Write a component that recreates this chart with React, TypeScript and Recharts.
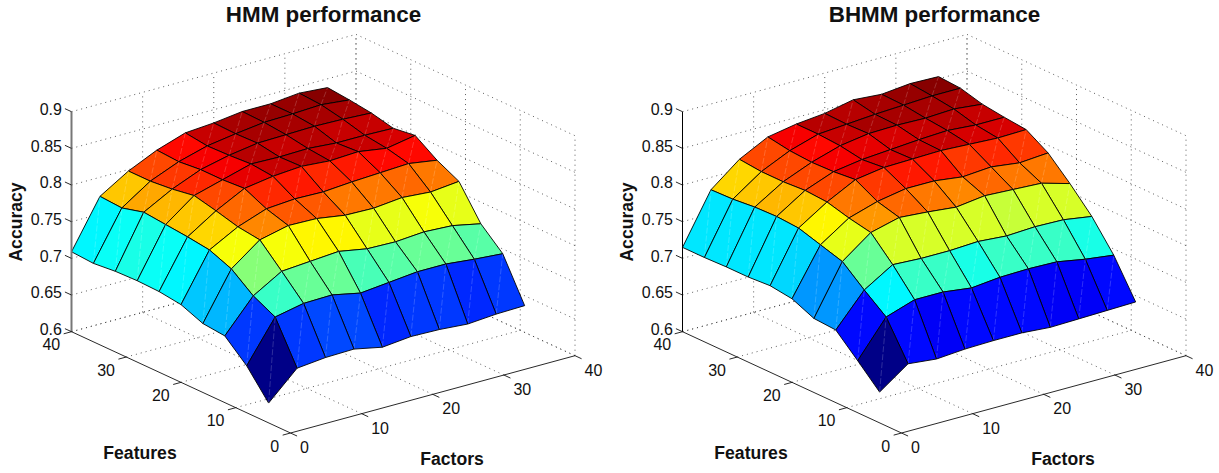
import { ScatterChart, Scatter, XAxis, YAxis } from "recharts"

const factorValues = [0, 4, 8, 12, 16, 20, 24, 28, 32, 36]
const featureValues = [4, 8, 12, 16, 20, 24, 28, 32, 36, 40]

// accuracy per feature count (rows) and factor count (columns)
const hmmAccuracy = [
  [0.627, 0.664, 0.668, 0.669, 0.661, 0.665, 0.664, 0.661, 0.664, 0.665],
  [0.664, 0.72, 0.728, 0.729, 0.721, 0.725, 0.729, 0.729, 0.725, 0.722],
  [0.691, 0.735, 0.758, 0.761, 0.764, 0.757, 0.756, 0.759, 0.757, 0.749],
  [0.694, 0.758, 0.787, 0.796, 0.795, 0.789, 0.788, 0.792, 0.789, 0.793],
  [0.706, 0.77, 0.791, 0.805, 0.808, 0.807, 0.81, 0.812, 0.814, 0.808],
  [0.71, 0.774, 0.799, 0.819, 0.825, 0.828, 0.825, 0.827, 0.821, 0.828],
  [0.711, 0.777, 0.806, 0.817, 0.828, 0.827, 0.828, 0.825, 0.825, 0.824],
  [0.71, 0.78, 0.801, 0.817, 0.826, 0.832, 0.833, 0.834, 0.833, 0.831],
  [0.707, 0.772, 0.798, 0.814, 0.825, 0.831, 0.836, 0.837, 0.839, 0.835],
  [0.709, 0.774, 0.798, 0.816, 0.829, 0.832, 0.837, 0.837, 0.841, 0.838],
]

const bhmmAccuracy = [
  [0.642, 0.67, 0.666, 0.669, 0.67, 0.67, 0.667, 0.668, 0.669, 0.67],
  [0.671, 0.72, 0.733, 0.733, 0.728, 0.732, 0.733, 0.732, 0.725, 0.72],
  [0.699, 0.743, 0.767, 0.765, 0.765, 0.767, 0.764, 0.766, 0.765, 0.759],
  [0.701, 0.768, 0.797, 0.807, 0.804, 0.8, 0.805, 0.803, 0.801, 0.79],
  [0.714, 0.777, 0.803, 0.815, 0.822, 0.822, 0.817, 0.82, 0.815, 0.818],
  [0.718, 0.786, 0.811, 0.831, 0.837, 0.838, 0.839, 0.837, 0.835, 0.836],
  [0.716, 0.788, 0.813, 0.828, 0.834, 0.837, 0.84, 0.842, 0.839, 0.839],
  [0.716, 0.787, 0.811, 0.827, 0.839, 0.845, 0.846, 0.845, 0.847, 0.843],
  [0.715, 0.784, 0.811, 0.829, 0.841, 0.844, 0.847, 0.849, 0.851, 0.851],
  [0.715, 0.783, 0.814, 0.834, 0.841, 0.845, 0.853, 0.85, 0.854, 0.853],
]

const accuracyTicks = [0.6, 0.65, 0.7, 0.75, 0.8, 0.85, 0.9]
const featureTicks = [0, 10, 20, 30, 40]
const factorTicks = [0, 10, 20, 30, 40]

const FONT = "'Liberation Sans', Helvetica, Arial, sans-serif"
const HEIGHT = 473

// fixed 3D view of the box, in picture pixels
const project = (factor: number, feature: number, accuracy: number) => ({
  x: 290.5 + (factor * 284.5) / 40 - (feature * 219) / 40,
  y: 433 - (factor * 77.3) / 40 - (feature * 101.3) / 40 - (accuracy - 0.6) * (220 / 0.3),
})

const jet = (value: number, min: number, max: number) => {
  const level = Math.min(63, Math.floor(((value - min) / (max - min)) * 64))
  const t = (level + 0.5) / 64
  const ramp = (v: number) => Math.round(255 * Math.max(0, Math.min(1, v)))
  const r = ramp(Math.min(4 * t - 1.5, -4 * t + 4.5))
  const g = ramp(Math.min(4 * t - 0.5, -4 * t + 3.5))
  const b = ramp(Math.min(4 * t + 0.5, -4 * t + 2.5))
  return `rgb(${r},${g},${b})`
}

const noSymbol = () => null

const GridLine = (from: number[], to: number[], key: string, stroke = "#333", width = 0.8, dash = "1 4") => (
  <Scatter
    key={key}
    data={[project(from[0], from[1], from[2]), project(to[0], to[1], to[2])]}
    shape={noSymbol}
    isAnimationActive={false}
    line={(p: any) => (
      <line
        x1={p.points[0].x}
        y1={p.points[0].y}
        x2={p.points[1].x}
        y2={p.points[1].y}
        stroke={stroke}
        strokeWidth={width}
        strokeDasharray={dash}
      />
    )}
  />
)

const Label = (
  point: { x: number; y: number },
  text: string,
  key: string,
  size = 16,
  anchor = "middle",
  weight = "normal",
  rotate = false,
) => (
  <Scatter
    key={key}
    data={[point]}
    isAnimationActive={false}
    shape={(p: any) => (
      <text
        x={p.cx}
        y={p.cy}
        fontSize={size}
        fontFamily={FONT}
        fontWeight={weight}
        textAnchor={anchor}
        fill="#111"
        transform={rotate ? `rotate(-90 ${p.cx} ${p.cy})` : undefined}
      >
        {text}
      </text>
    )}
  />
)

function Panel({
  title,
  accuracy,
  width,
  axisColor,
  axisWidth,
}: {
  title: string
  accuracy: number[][]
  width: number
  axisColor: string
  axisWidth: number
}) {
  const values = accuracy.flat()
  const min = Math.min(...values)
  const max = Math.max(...values)

  // faces painted back to front
  const faces: { i: number; j: number }[] = []
  for (let j = featureValues.length - 2; j >= 0; j--) {
    for (let i = factorValues.length - 2; i >= 0; i--) {
      faces.push({ i, j })
    }
  }

  return (
    <ScatterChart width={width} height={HEIGHT} margin={{ top: 0, right: 0, bottom: 0, left: 0 }}>
      <XAxis type="number" dataKey="x" domain={[0, width]} hide />
      <YAxis type="number" dataKey="y" domain={[0, HEIGHT]} reversed hide />

      {/* Box grid */}
      {accuracyTicks.map((z) => GridLine([0, 40, z], [40, 40, z], `wall-a-${z}`))}
      {accuracyTicks.map((z) => GridLine([40, 40, z], [40, 0, z], `wall-b-${z}`))}
      {factorTicks.map((f) => GridLine([f, 40, 0.6], [f, 40, 0.9], `wall-c-${f}`))}
      {featureTicks.map((g) => GridLine([40, g, 0.6], [40, g, 0.9], `wall-d-${g}`))}
      {factorTicks.slice(1).map((f) => GridLine([f, 0, 0.6], [f, 40, 0.6], `floor-a-${f}`))}
      {featureTicks.slice(1).map((g) => GridLine([0, g, 0.6], [40, g, 0.6], `floor-b-${g}`))}

      {/* Surface */}
      {faces.map(({ i, j }) => {
        const corners = [
          project(factorValues[i], featureValues[j], accuracy[j][i]),
          project(factorValues[i + 1], featureValues[j], accuracy[j][i + 1]),
          project(factorValues[i + 1], featureValues[j + 1], accuracy[j + 1][i + 1]),
          project(factorValues[i], featureValues[j + 1], accuracy[j + 1][i]),
        ]
        const color = jet(accuracy[j][i], min, max)
        return (
          <Scatter
            key={`face-${i}-${j}`}
            data={corners}
            shape={noSymbol}
            isAnimationActive={false}
            line={(p: any) => (
              <g>
                <polygon
                  points={p.points.map((c: any) => `${c.x},${c.y}`).join(" ")}
                  fill={color}
                  stroke="#000"
                  strokeWidth={0.9}
                  strokeLinejoin="round"
                />
                <line
                  x1={p.points[0].x}
                  y1={p.points[0].y}
                  x2={p.points[2].x}
                  y2={p.points[2].y}
                  stroke="#fff"
                  strokeOpacity={0.3}
                  strokeWidth={0.6}
                  strokeDasharray="6 2"
                />
              </g>
            )}
          />
        )
      })}

      {/* Axes */}
      {GridLine([0, 40, 0.6], [0, 40, 0.9], "axis-z", axisColor, axisWidth, "none")}
      {GridLine([0, 0, 0.6], [0, 40, 0.6], "axis-feature", "#111", 0.9, "none")}
      {GridLine([0, 0, 0.6], [40, 0, 0.6], "axis-factor", "#111", 0.9, "none")}
      {accuracyTicks.map((z) => GridLine([0, 40, z], [0, 41.2, z], `tick-z-${z}`, "#111", 0.9, "none"))}
      {featureTicks.map((g) => GridLine([0, g, 0.6], [-1.1, g, 0.6], `tick-feature-${g}`, "#111", 0.9, "none"))}
      {factorTicks.map((f) => GridLine([f, 0, 0.6], [f, -1.2, 0.6], `tick-factor-${f}`, "#111", 0.9, "none"))}

      {accuracyTicks.map((z) => {
        const p = project(0, 41.2, z)
        return Label({ x: p.x - 3, y: p.y + 6.5 }, String(z), `label-z-${z}`, 16, "end")
      })}
      {featureTicks.map((g) => {
        const p = project(-1.1, g, 0.6)
        return Label({ x: p.x - 3.5, y: p.y + 16.5 }, String(g), `label-feature-${g}`, 16, "end")
      })}
      {factorTicks.map((f) => {
        const p = project(f, -1.2, 0.6)
        return Label({ x: p.x + 3, y: p.y + 17 }, String(f), `label-factor-${f}`, 16, "start")
      })}

      {Label({ x: 323.5, y: 22 }, title, "title", 22.4, "middle", "bold")}
      {Label({ x: 22, y: 222 }, "Accuracy", "label-accuracy", 17.6, "middle", "bold", true)}
      {Label({ x: 140, y: 458.5 }, "Features", "label-features", 17.6, "middle", "bold")}
      {Label({ x: 452, y: 465 }, "Factors", "label-factors", 17.6, "middle", "bold")}
    </ScatterChart>
  )
}

export default function App() {
  return (
    <div style={{ position: "absolute", left: 0, top: 0, width: 1219, height: HEIGHT, display: "flex", background: "#fff" }}>
      <Panel title="HMM performance" accuracy={hmmAccuracy} width={611} axisColor="#777" axisWidth={2} />
      <Panel title="BHMM performance" accuracy={bhmmAccuracy} width={608} axisColor="#000" axisWidth={1} />
    </div>
  )
}
